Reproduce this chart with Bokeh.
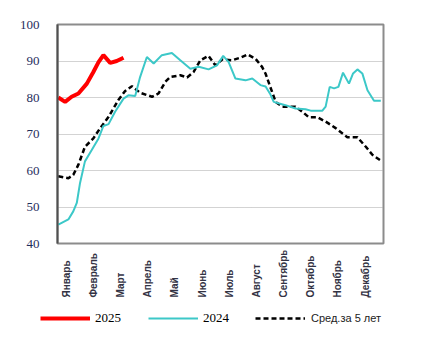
from math import pi
import numpy as np
from bokeh.plotting import figure
from bokeh.models import FixedTicker, Legend, LegendItem, Range1d
from bokeh.core.properties import value
from bokeh.embed import file_html
from bokeh.resources import INLINE

# Month labels (x axis, month index 0..12)
months = ["Январь", "Февраль", "Март", "Апрель", "Май", "Июнь", "Июль",
          "Август", "Сентябрь", "Октябрь", "Ноябрь", "Декабрь"]
y_ticks = [40, 50, 60, 70, 80, 90, 100]

# 2025 series (x in months from start of year)
x_2025 = [0.03, 0.28, 0.52, 0.77, 1.08, 1.32, 1.51, 1.69, 1.94, 2.18, 2.43]
v_2025 = [80.0, 78.8, 80.2, 81.1, 83.8, 87.0, 89.7, 91.6, 89.5, 90.0, 90.9]

# 2024 series
x_2024 = [0.03, 0.40, 0.58, 0.71, 0.83, 1.01, 1.26, 1.51, 1.69, 1.88, 2.12, 2.43,
          2.61, 2.86, 3.04, 3.29, 3.54, 3.84, 4.21, 4.52, 4.89, 5.20, 5.56, 5.87,
          6.10, 6.30, 6.55, 6.92, 7.17, 7.47, 7.66, 7.84, 7.96, 8.39, 8.76, 9.13,
          9.32, 9.75, 9.87, 10.02, 10.18, 10.34, 10.51, 10.73, 10.88, 11.04, 11.22,
          11.41, 11.65, 11.90]
v_2024 = [45.2, 46.6, 48.8, 51.1, 56.6, 62.5, 65.6, 68.8, 72.2, 72.7, 76.1, 79.7,
          80.6, 80.4, 85.6, 91.1, 89.3, 91.6, 92.2, 90.2, 87.9, 88.4, 87.7, 88.8,
          91.4, 89.7, 85.2, 84.7, 85.2, 83.4, 83.0, 80.8, 78.8, 77.9, 77.0, 76.8,
          76.4, 76.4, 77.5, 82.9, 82.5, 82.9, 86.8, 83.8, 86.6, 87.7, 86.6,
          82.0, 79.1, 79.1]

# 5-year average
x_avg = [0.03, 0.40, 0.58, 0.77, 1.01, 1.32, 1.57, 1.88, 2.24, 2.49, 2.74, 3.04,
         3.48, 3.72, 3.97, 4.15, 4.52, 4.77, 5.01, 5.26, 5.56, 5.81, 6.06, 6.43,
         6.73, 7.00, 7.29, 7.53, 7.66, 7.78, 8.03, 8.27, 8.76, 9.01, 9.25, 9.56,
         9.87, 10.24, 10.67, 11.04, 11.35, 11.59, 11.90]
v_avg = [58.4, 57.9, 58.8, 61.6, 66.5, 68.8, 71.6, 74.7, 79.3, 81.8, 83.1, 81.3,
         80.2, 81.1, 84.3, 85.6, 86.1, 85.5, 87.0, 90.2, 91.4, 88.8, 90.4, 90.2,
         90.9, 91.8, 90.6, 88.4, 86.5, 84.0, 78.8, 77.5, 77.5, 76.1, 74.6, 74.6,
         73.4, 71.6, 69.1, 69.1, 66.5, 64.3, 62.7]

W = 421
LEFT, RIGHT, TOP = 57, 38, 24
H_MAIN, H_BOT = 250, 91

RED, CYAN = "#ff0000", "#3cc8c8"

p = figure(width=W, height=H_MAIN, output_backend="svg", toolbar_location=None,
           x_range=Range1d(0, 12), y_range=Range1d(40, 100),
           min_border_left=LEFT, min_border_right=RIGHT, min_border_top=TOP,
           min_border_bottom=7)
p.background_fill_color = "white"
p.border_fill_color = "white"
p.outline_line_color = "#8c8c8c"
p.outline_line_width = 2

p.xaxis.visible = False
p.xgrid.visible = False

ya = p.yaxis[0]
ya.ticker = FixedTicker(ticks=y_ticks)
ya.major_tick_line_color = None
ya.minor_tick_line_color = None
ya.axis_line_color = "#505050"
ya.axis_line_width = 2
ya.major_label_text_font = "Liberation Serif"
ya.major_label_text_font_size = "13px"
ya.major_label_text_color = "#1f2d5c"
ya.major_label_standoff = 12

p.ygrid.ticker = FixedTicker(ticks=y_ticks[1:-1])
p.ygrid.grid_line_color = "#a6a6a6"
p.ygrid.grid_line_dash = "1 1"
p.ygrid.grid_line_width = 1

p.line(x_avg, v_avg, line_color="black", line_width=2.5, line_dash="5 3")
p.line(x_2024, v_2024, line_color=CYAN, line_width=2)
p.line(x_2025, v_2025, line_color=RED, line_width=4)

# lower strip (separate root): month labels and legend, same horizontal scale
ppm = (W - LEFT - RIGHT) / 12.0
p2 = figure(width=W, height=H_BOT, output_backend="svg", toolbar_location=None,
            x_range=Range1d(-LEFT / ppm, 12 + RIGHT / ppm), y_range=Range1d(0, H_BOT),
            x_axis_type=None, y_axis_type=None, min_border=0,
            min_border_left=0, min_border_right=0, min_border_top=0,
            min_border_bottom=0)
p2.outline_line_color = None
p2.grid.visible = False
p2.background_fill_color = "white"
p2.border_fill_color = "white"

p2.text(x=[i + 0.32 for i in range(len(months))], y=[44] * len(months), text=months,
        angle=pi / 2, text_align="left", text_baseline="middle",
        text_font=value("Liberation Sans"), text_font_size="10px",
        text_font_style="bold", text_color="#333344")

nan2 = np.array([np.nan, np.nan])
d25 = p2.line(nan2, nan2, line_color=RED, line_width=4)
d24 = p2.line(nan2, nan2, line_color=CYAN, line_width=2)
dav = p2.line(nan2, nan2, line_color="black", line_width=2.5, line_dash="5 3")

leg_a = Legend(items=[LegendItem(label="2025", renderers=[d25]),
                      LegendItem(label="2024", renderers=[d24])],
               location=(40, 13), orientation="horizontal",
               glyph_width=50, glyph_height=20, label_standoff=5, spacing=27,
               label_width=26, padding=0, margin=0, border_line_alpha=0,
               background_fill_alpha=0, label_text_font="Liberation Serif",
               label_text_font_size="13px", label_text_color="black")
leg_b = Legend(items=[LegendItem(label="Сред.за 5 лет", renderers=[dav])],
               location=(255, 13), orientation="horizontal",
               glyph_width=50, glyph_height=20, label_standoff=6,
               padding=0, margin=0, border_line_alpha=0,
               background_fill_alpha=0, label_text_font="Liberation Sans",
               label_text_font_size="11px", label_text_color="#222222")
p2.add_layout(leg_a, "center")
p2.add_layout(leg_b, "center")

open("out.html", "w").write(file_html([p, p2], INLINE))
